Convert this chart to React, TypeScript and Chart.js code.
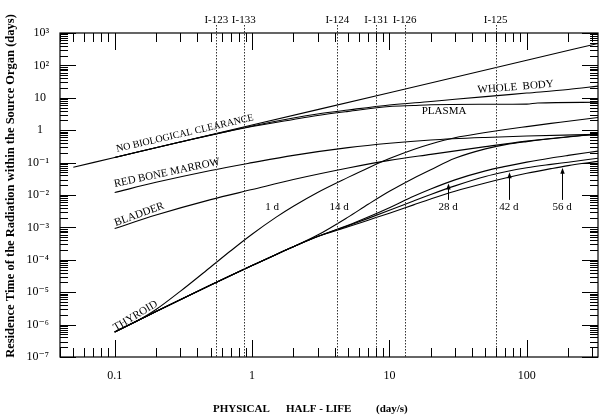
import React, { useEffect, useRef } from "react";
import { Chart, registerables } from "chart.js";

Chart.register(...registerables);

// ---------- data ----------
const xMin = 0.04;
const xMax = 330;
const yMin = 1e-7;
const yMax = 1e3;

const xTickValues = [0.1, 1, 10, 100];
const xTickLabels = ["0.1", "1", "10", "100"];
const yTickValues = [1e3, 1e2, 1e1, 1, 1e-1, 1e-2, 1e-3, 1e-4, 1e-5, 1e-6, 1e-7];
const yTickLabels = ["10³", "10²", "10 ", "1  ", "10⁻¹", "10⁻²", "10⁻³", "10⁻⁴", "10⁻⁵", "10⁻⁶", "10⁻⁷"];

const noClearanceT = [0.05, 0.1, 1, 10, 100, 330];
const noClearanceV = [0.072, 0.144, 1.44, 14.4, 144, 476];

const wholeBodyT = [0.1, 0.3, 0.7, 1, 2, 3, 5, 10, 20, 30, 50, 100, 200, 330];
const wholeBodyV = [0.144, 0.43, 0.97, 1.35, 2.38, 3.16, 4.2, 6.0, 7.7, 9.0, 10.9, 14.0, 18.0, 23];

const plasmaT = [0.1, 0.3, 0.7, 1, 2, 3, 5, 10, 15, 20, 50, 100, 120, 330];
const plasmaV = [0.144, 0.43, 0.96, 1.3, 2.15, 2.85, 3.8, 5.4, 5.8, 6.1, 6.3, 6.4, 6.9, 7.3];

const redMarrowT = [0.1, 0.2, 0.5, 1, 2, 5, 10, 20, 50, 100, 330];
const redMarrowV = [0.0119, 0.0246, 0.0572, 0.0996, 0.1676, 0.29, 0.396, 0.498, 0.598, 0.659, 0.743];

const bladderT = [0.1, 0.2, 0.5, 1, 2, 5, 10, 20, 50, 100, 200, 330];
const bladderV = [0.00092, 0.0024, 0.0072, 0.0147, 0.03, 0.068, 0.1168, 0.1795, 0.311, 0.459, 0.631, 0.751];

const thyroidT = [0.1, 0.15, 0.2, 0.3, 0.5, 0.7, 1, 1.5, 2, 3, 5, 7, 10, 15, 20, 30, 50, 70, 100, 150, 200, 330];
const thyroid1d = [5.9e-7, 1.38e-6, 2.92e-6, 1.06e-5, 6.0e-5, 1.9e-4, 6.15e-4, 2.08e-3, 4.5e-3, 0.012, 0.035, 0.0686, 0.133, 0.254, 0.375, 0.585, 0.845, 1.05, 1.29, 1.62, 1.88, 2.47];
const thyroid14d = [5.9e-7, 1.38e-6, 2.53e-6, 5.87e-6, 1.67e-5, 3.28e-5, 6.65e-5, 1.47e-4, 2.53e-4, 5.8e-4, 2.08e-3, 5.16e-3, 0.013, 0.0331, 0.0606, 0.136, 0.265, 0.359, 0.445, 0.545, 0.62, 0.758];
const thyroid28d = [5.9e-7, 1.38e-6, 2.53e-6, 5.87e-6, 1.67e-5, 3.28e-5, 6.65e-5, 1.47e-4, 2.53e-4, 5.2e-4, 1.155e-3, 2.08e-3, 4.03e-3, 9.1e-3, 0.0153, 0.0293, 0.0555, 0.0764, 0.1036, 0.139, 0.167, 0.226];
const thyroid42d = [5.9e-7, 1.38e-6, 2.53e-6, 5.87e-6, 1.67e-5, 3.28e-5, 6.65e-5, 1.47e-4, 2.53e-4, 5.2e-4, 1.126e-3, 1.9e-3, 3.36e-3, 6.55e-3, 0.0104, 0.0191, 0.0371, 0.0519, 0.0691, 0.0881, 0.103, 0.136];
const thyroid56d = [5.9e-7, 1.38e-6, 2.53e-6, 5.87e-6, 1.67e-5, 3.28e-5, 6.65e-5, 1.47e-4, 2.53e-4, 5.2e-4, 1.043e-3, 1.67e-3, 2.75e-3, 4.96e-3, 7.52e-3, 0.013, 0.0234, 0.0333, 0.0467, 0.0651, 0.0808, 0.109];

const isotopeNames = ["I-123", "I-133", "I-124", "I-131", "I-126", "I-125"];
const isotopeHalfLives = [0.55, 0.87, 4.18, 8.02, 12.9, 59.4];

const curveLabelText = ["NO BIOLOGICAL CLEARANCE", "RED BONE MARROW", "BLADDER", "THYROID", "WHOLE  BODY", "PLASMA"];
const curveLabelT = [0.104, 0.1, 0.102, 0.102, 44, 25];
const curveLabelV = [0.215, 0.0177, 0.0011, 6.3e-7, 14.1, 3.9];
const curveLabelAngle = [-13, -12, -20, -31, -4.5, 0];
const curveLabelSize = [10, 11, 11, 11, 11, 11];

const periodLabels = ["1 d", "14 d", "28 d", "42 d", "56 d"];
const periodLabelT = [1.4, 4.3, 26.8, 74, 181];
const periodLabelV = [0.0043, 0.0043, 0.0043, 0.0043, 0.0043];
const periodArrowDataset = [-1, -1, 7, 8, 9];

const xTitleParts = ["PHYSICAL", "HALF - LIFE", "(day/s)"];
const xTitleOffsets = [153, 226, 316];
const yTitle = "Residence Time of the Radiation within the Source Organ (days)";

// ---------- chart ----------
const SERIF = "'Liberation Serif', 'Times New Roman', 'DejaVu Serif', serif";

function series(T: number[], V: number[]) {
  return T.map((t, i) => ({ x: t, y: V[i] }));
}

function pixelYAt(meta: any, px: number): number | null {
  const pts = meta.data;
  for (let i = 0; i < pts.length - 1; i++) {
    const a = pts[i], b = pts[i + 1];
    if (px >= a.x && px <= b.x) {
      const f = (px - a.x) / (b.x - a.x || 1);
      return a.y + f * (b.y - a.y);
    }
  }
  return null;
}

const overlayPlugin = {
  id: "overlay",
  afterDatasetsDraw(chart: any) {
    const { ctx, chartArea: a } = chart;
    const xs = chart.scales.x;
    const ys = chart.scales.y;
    ctx.save();

    // isotope dotted lines
    ctx.strokeStyle = "#333";
    ctx.lineWidth = 1;
    ctx.setLineDash([1.5, 1.5]);
    isotopeHalfLives.forEach((t) => {
      const px = Math.round(xs.getPixelForValue(t)) + 0.5;
      ctx.beginPath();
      ctx.moveTo(px, a.top - 8);
      ctx.lineTo(px, a.bottom);
      ctx.stroke();
    });
    ctx.setLineDash([]);

    ctx.fillStyle = "#000";
    ctx.font = `11px ${SERIF}`;
    ctx.textAlign = "center";
    ctx.textBaseline = "middle";
    isotopeNames.forEach((n, i) => {
      const px = xs.getPixelForValue(isotopeHalfLives[i]);
      ctx.fillText(n, px, a.top - 13);
    });

    // frame
    ctx.strokeStyle = "#000";
    ctx.lineWidth = 1.2;
    ctx.strokeRect(a.left, a.top, a.right - a.left, a.bottom - a.top);

    // x ticks (inward, top and bottom)
    ctx.lineWidth = 1;
    for (let k = -2; k <= 3; k++) {
      for (let m = 1; m <= 9; m++) {
        const v = m * Math.pow(10, k);
        if (v < xMin || v > xMax) continue;
        const px = Math.round(xs.getPixelForValue(v)) + 0.5;
        const len = m === 1 ? 17 : 9;
        ctx.beginPath();
        ctx.moveTo(px, a.bottom);
        ctx.lineTo(px, a.bottom - len);
        ctx.moveTo(px, a.top);
        ctx.lineTo(px, a.top + len);
        ctx.stroke();
      }
    }
    // y ticks (inward, left and right)
    for (let k = -7; k <= 3; k++) {
      for (let m = 1; m <= 9; m++) {
        const v = m * Math.pow(10, k);
        if (v < yMin || v > yMax) continue;
        const py = Math.round(ys.getPixelForValue(v)) + 0.5;
        const len = m === 1 ? 16 : 8;
        ctx.beginPath();
        ctx.moveTo(a.left, py);
        ctx.lineTo(a.left + len, py);
        ctx.moveTo(a.right, py);
        ctx.lineTo(a.right - len, py);
        ctx.stroke();
      }
    }

    // curve labels
    curveLabelText.forEach((txt, i) => {
      const px = xs.getPixelForValue(curveLabelT[i]);
      const py = ys.getPixelForValue(curveLabelV[i]);
      ctx.save();
      ctx.font = `${curveLabelSize[i]}px ${SERIF}`;
      ctx.translate(px, py);
      ctx.rotate((curveLabelAngle[i] * Math.PI) / 180);
      if (curveLabelAngle[i] === 0) {
        ctx.textAlign = "center";
        ctx.textBaseline = "middle";
      } else {
        ctx.textAlign = "left";
        ctx.textBaseline = "alphabetic";
      }
      ctx.fillText(txt, 0, 0);
      ctx.restore();
    });

    // period labels and arrows
    ctx.font = `11px ${SERIF}`;
    ctx.textAlign = "center";
    ctx.textBaseline = "middle";
    periodLabels.forEach((txt, i) => {
      const px = xs.getPixelForValue(periodLabelT[i]);
      const py = ys.getPixelForValue(periodLabelV[i]);
      ctx.fillText(txt, px, py);
      const di = periodArrowDataset[i];
      if (di >= 0) {
        const tipY = pixelYAt(chart.getDatasetMeta(di), px);
        if (tipY !== null) {
          const ax = Math.round(px) + 0.5;
          ctx.beginPath();
          ctx.moveTo(ax, py - 7);
          ctx.lineTo(ax, tipY + 5);
          ctx.stroke();
          ctx.beginPath();
          ctx.moveTo(ax, tipY + 1);
          ctx.lineTo(ax - 2.2, tipY + 7);
          ctx.lineTo(ax + 2.2, tipY + 7);
          ctx.closePath();
          ctx.fill();
        }
      }
    });

    // axis titles
    ctx.font = `bold 11px ${SERIF}`;
    ctx.textAlign = "left";
    ctx.textBaseline = "middle";
    xTitleParts.forEach((t, i) => {
      ctx.fillText(t, a.left + xTitleOffsets[i], a.bottom + 52);
    });
    ctx.save();
    ctx.translate(11, 186);
    ctx.rotate(-Math.PI / 2);
    ctx.textAlign = "center";
    ctx.font = `bold 12.5px ${SERIF}`;
    ctx.fillText(yTitle, 0, 0);
    ctx.restore();

    ctx.restore();
  },
};

export default function App() {
  const ref = useRef<HTMLCanvasElement | null>(null);

  useEffect(() => {
    if (!ref.current) return;
    const line = (data: any) => ({
      data,
      borderColor: "#000",
      borderWidth: 1.1,
      pointRadius: 0,
      fill: false,
      cubicInterpolationMode: "monotone" as const,
    });
    const chart = new Chart(ref.current, {
      type: "line",
      data: {
        datasets: [
          line(series(noClearanceT, noClearanceV)),
          line(series(wholeBodyT, wholeBodyV)),
          line(series(plasmaT, plasmaV)),
          line(series(redMarrowT, redMarrowV)),
          line(series(bladderT, bladderV)),
          line(series(thyroidT, thyroid1d)),
          line(series(thyroidT, thyroid14d)),
          line(series(thyroidT, thyroid28d)),
          line(series(thyroidT, thyroid42d)),
          line(series(thyroidT, thyroid56d)),
        ],
      },
      options: {
        animation: false,
        responsive: false,
        devicePixelRatio: 1,
        layout: { padding: { top: 33, right: 7, left: 0, bottom: 0 } },
        plugins: { legend: { display: false }, tooltip: { enabled: false } },
        scales: {
          x: {
            type: "logarithmic",
            min: xMin,
            max: xMax,
            grid: { display: false, drawTicks: false },
            border: { display: false },
            afterFit: (s: any) => {
              s.height = 58;
            },
            afterBuildTicks: (s: any) => {
              s.ticks = xTickValues.map((v) => ({ value: v }));
            },
            ticks: {
              autoSkip: false,
              maxRotation: 0,
              padding: 12,
              color: "#000",
              font: { family: SERIF, size: 12 },
              callback: (_v: any, i: number) => xTickLabels[i],
            },
          },
          y: {
            type: "logarithmic",
            min: yMin,
            max: yMax,
            grid: { display: false, drawTicks: false },
            border: { display: false },
            afterFit: (s: any) => {
              s.width = 60;
            },
            afterBuildTicks: (s: any) => {
              s.ticks = yTickValues.map((v) => ({ value: v }));
            },
            ticks: {
              autoSkip: false,
              padding: 11,
              color: "#000",
              font: { family: SERIF, size: 12 },
              callback: (_v: any, i: number) => yTickLabels[i],
            },
          },
        },
      },
      plugins: [overlayPlugin],
    });
    return () => chart.destroy();
  }, []);

  return (
    <div style={{ position: "fixed", left: 0, top: 0, width: 605, height: 415, background: "#fff" }}>
      <canvas ref={ref} width={605} height={415} />
    </div>
  );
}
